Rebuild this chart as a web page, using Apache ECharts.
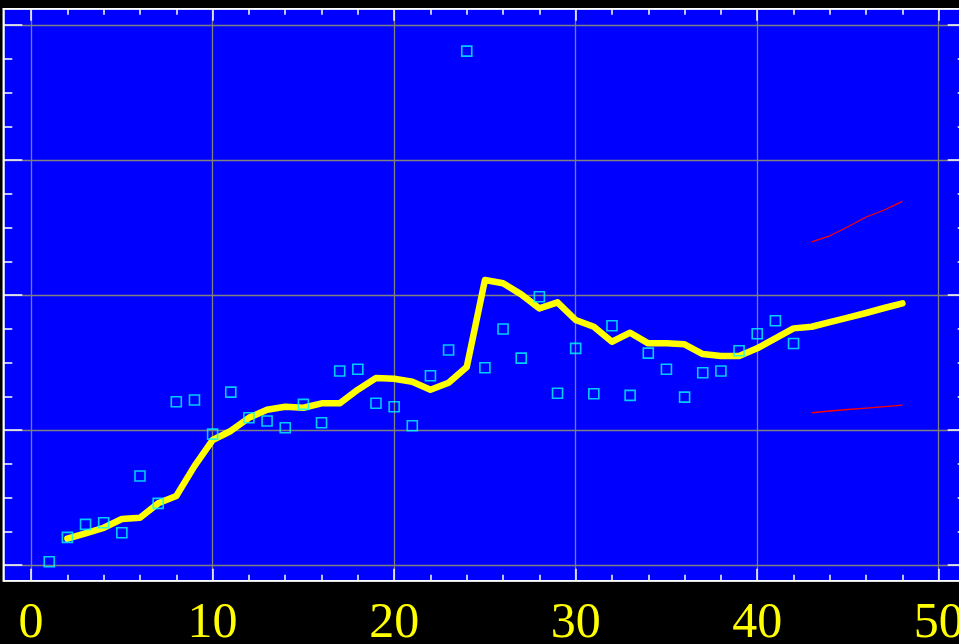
<!DOCTYPE html>
<html>
<head>
<meta charset="utf-8">
<script src="https://cdn.jsdelivr.net/npm/echarts@6/dist/echarts.min.js"></script>
<style>
html,body{margin:0;padding:0;background:#000;}
#chart{width:959px;height:644px;}
</style>
</head>
<body>
<div id="chart"></div>
<script>
// ---- data ----
const obsX = [1,2,3,4,5,6,7,8,9,10,11,12,13,14,15,16,17,18,19,20,21,22,23,24,25,26,27,28,29,30,31,32,33,34,35,36,37,38,39,40,41,42];
const obsY = [0.24,2.05,3.01,3.13,2.39,6.59,4.57,12.10,12.22,9.70,12.81,10.91,10.67,10.17,11.90,10.54,14.37,14.50,11.98,11.73,10.32,14.02,15.93,38.07,14.61,17.48,15.33,19.87,12.72,16.05,12.69,17.73,12.57,15.70,14.50,12.44,14.24,14.37,15.87,17.13,18.09,16.41];
const fitX = [2,3,4,5,6,7,8,9,10,11,12,13,14,15,16,17,18,19,20,21,22,23,24,25,26,27,28,29,30,31,32,33,34,35,36,37,38,39,40,41,42,43,44,45,46,47,48];
const fitY = [1.95,2.35,2.76,3.41,3.50,4.57,5.11,7.33,9.26,9.93,10.91,11.50,11.73,11.65,11.98,11.98,12.99,13.85,13.80,13.58,12.99,13.50,14.67,21.11,20.87,20.05,19.01,19.46,18.15,17.65,16.54,17.21,16.42,16.42,16.35,15.63,15.48,15.48,16.05,16.79,17.53,17.65,18.00,18.33,18.67,19.04,19.39];
const bandX = [43,44,45,46,47,48];
const upperY = [23.93,24.39,25.06,25.78,26.30,26.94];
const lowerY = [11.28,11.41,11.52,11.63,11.74,11.85];
const xMajorTicks = [0,10,20,30,40,50];
const xMinorTicks = [2,4,6,8,12,14,16,18,22,24,26,28,32,34,36,38,42,44,46,48];
const yMajorTicks = [0,10,20,30,40];
const yMinorTicks = [2.5,5,7.5,12.5,15,17.5,22.5,25,27.5,32.5,35,37.5];
const X_MIN = -1.53, X_MAX = 51.54, Y_MIN = -1.16, Y_MAX = 41.21;

const zip = (xs, ys) => xs.map((x, i) => [x, ys[i]]);

function xAx(pos, ticks, len, major) {
  return {
    type: 'value', position: pos, min: X_MIN, max: X_MAX,
    axisLine: { show: major, onZero: false, lineStyle: { color: '#fff', width: 1.5 } },
    axisTick: { show: true, inside: true, length: len, customValues: ticks, lineStyle: { color: '#fff', width: 1.5 } },
    axisLabel: (major && pos === 'bottom') ? {
      show: true, customValues: ticks, color: '#ffff00', fontFamily: 'Liberation Serif',
      fontSize: 50, margin: 18, hideOverlap: false
    } : { show: false },
    splitLine: { show: major && pos === 'bottom', lineStyle: { color: '#808080', width: 1.3 } }
  };
}
function yAx(pos, ticks, len, major) {
  return {
    type: 'value', position: pos, min: Y_MIN, max: Y_MAX,
    axisLine: { show: major, onZero: false, lineStyle: { color: '#fff', width: 1.5 } },
    axisTick: { show: true, inside: true, length: len, customValues: ticks, lineStyle: { color: '#fff', width: 1.5 } },
    axisLabel: { show: false },
    splitLine: { show: major && pos === 'left', lineStyle: { color: '#808080', width: 1.3 } }
  };
}

const chart = echarts.init(document.getElementById('chart'), null, { renderer: 'canvas' });
chart.setOption({
  backgroundColor: '#000',
  animation: false,
  grid: {
    left: 3.3, right: -7.7, top: 8.7, bottom: 63.3,
    show: true, backgroundColor: '#0000ff', borderColor: '#fff', borderWidth: 1.5,
    containLabel: false, outerBoundsMode: 'none'
  },
  xAxis: [
    xAx('bottom', xMajorTicks, 12, true),
    xAx('bottom', xMinorTicks, 6, false),
    xAx('top', xMajorTicks, 12, true),
    xAx('top', xMinorTicks, 6, false)
  ],
  yAxis: [
    yAx('left', yMajorTicks, 19, true),
    yAx('left', yMinorTicks, 9, false),
    yAx('right', yMajorTicks, 19, true),
    yAx('right', yMinorTicks, 9, false)
  ],
  series: [
    {
      type: 'line', data: zip(bandX, upperY), showSymbol: false, symbol: 'none',
      lineStyle: { color: '#ff0000', width: 1.3 }, z: 3
    },
    {
      type: 'line', data: zip(bandX, lowerY), showSymbol: false, symbol: 'none',
      lineStyle: { color: '#ff0000', width: 1.3 }, z: 3
    },
    {
      type: 'line', data: zip(fitX, fitY), showSymbol: false, symbol: 'none',
      lineStyle: { color: '#ffff00', width: 6.5, cap: 'round', join: 'round' }, z: 4
    },
    {
      type: 'scatter', data: zip(obsX, obsY), symbol: 'rect', symbolSize: 10,
      itemStyle: { color: 'rgba(0,0,0,0)', borderColor: '#00ffff', borderWidth: 1.6 }, z: 5
    }
  ]
});
</script>
</body>
</html>
